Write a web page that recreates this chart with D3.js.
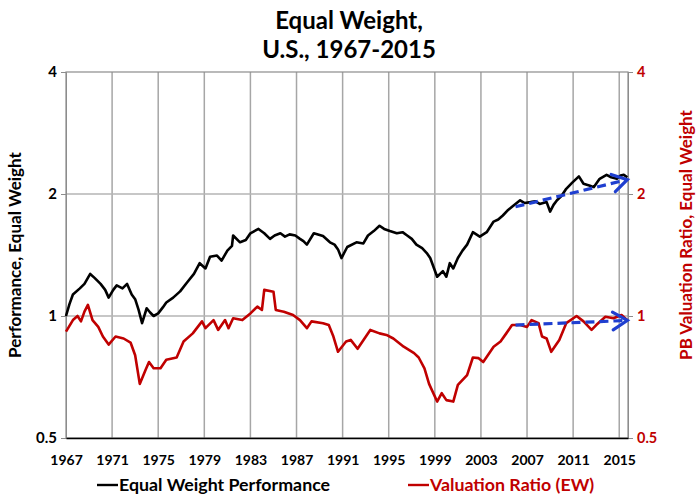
<!DOCTYPE html>
<html>
<head>
<meta charset="utf-8">
<script src="https://cdn.jsdelivr.net/npm/d3@7"></script>
<style>
body { margin: 0; background: #fff; }
text { font-family: Lato, "Open Sans", sans-serif; font-weight: bold; }
</style>
</head>
<body>
<div class="chart"></div>
<script>
var width = 698;
var height = 500;

var perfColor = "#000000";
var ratioColor = "#c00000";
var arrowColor = "#1f3fd0";

// data (decimal years)
var perfYears = [1967.0, 1967.3, 1967.6, 1968.2, 1968.6, 1969.1, 1969.5, 1970.0, 1970.4, 1970.7, 1971.1, 1971.4, 1971.9, 1972.3, 1972.7, 1973.0, 1973.3, 1973.6, 1974.0, 1974.3, 1974.6, 1975.0, 1975.4, 1975.7, 1976.3, 1976.9, 1977.5, 1978.1, 1978.6, 1979.1, 1979.5, 1980.1, 1980.5, 1981.0, 1981.4, 1981.5, 1982.1, 1982.6, 1983.0, 1983.7, 1984.2, 1984.7, 1985.1, 1985.6, 1986.0, 1986.4, 1986.9, 1987.3, 1987.6, 1987.9, 1988.5, 1989.3, 1989.9, 1990.3, 1990.6, 1990.9, 1991.4, 1992.2, 1992.8, 1993.2, 1993.7, 1994.2, 1994.6, 1995.1, 1995.7, 1996.2, 1996.6, 1997.0, 1997.4, 1997.9, 1998.3, 1998.6, 1999.2, 1999.7, 2000.0, 2000.3, 2000.6, 2001.0, 2001.4, 2001.8, 2002.3, 2002.9, 2003.5, 2004.1, 2004.5, 2004.9, 2005.3, 2005.7, 2006.4, 2006.8, 2007.3, 2007.7, 2008.1, 2008.7, 2009.0, 2009.3, 2009.6, 2010.0, 2010.4, 2010.9, 2011.5, 2011.9, 2012.4, 2012.8, 2013.3, 2013.9, 2014.3, 2014.8, 2015.1, 2015.4, 2015.7];
var perfValues = [1.00, 1.07, 1.13, 1.17, 1.20, 1.27, 1.24, 1.20, 1.16, 1.11, 1.16, 1.19, 1.17, 1.20, 1.13, 1.10, 1.035, 0.96, 1.045, 1.02, 1.00, 1.015, 1.05, 1.08, 1.11, 1.15, 1.21, 1.27, 1.35, 1.31, 1.40, 1.41, 1.37, 1.45, 1.49, 1.58, 1.52, 1.54, 1.60, 1.64, 1.60, 1.55, 1.58, 1.60, 1.57, 1.59, 1.58, 1.55, 1.53, 1.50, 1.60, 1.575, 1.52, 1.50, 1.46, 1.39, 1.48, 1.52, 1.51, 1.58, 1.62, 1.67, 1.64, 1.62, 1.60, 1.61, 1.58, 1.55, 1.50, 1.47, 1.43, 1.39, 1.25, 1.29, 1.25, 1.35, 1.31, 1.39, 1.45, 1.50, 1.61, 1.57, 1.61, 1.71, 1.73, 1.77, 1.82, 1.86, 1.93, 1.90, 1.91, 1.92, 1.89, 1.91, 1.81, 1.88, 1.93, 1.98, 2.06, 2.13, 2.21, 2.12, 2.10, 2.08, 2.18, 2.23, 2.20, 2.18, 2.22, 2.23, 2.20];

var ratioYears = [1967.0, 1967.6, 1968.0, 1968.3, 1968.6, 1968.9, 1969.3, 1969.8, 1970.2, 1970.7, 1971.3, 1972.0, 1972.6, 1973.0, 1973.4, 1973.9, 1974.2, 1974.6, 1975.2, 1975.7, 1976.6, 1977.2, 1978.0, 1978.8, 1979.1, 1979.8, 1980.2, 1980.8, 1981.1, 1981.5, 1982.3, 1983.0, 1983.6, 1984.0, 1984.2, 1985.0, 1985.2, 1985.9, 1986.7, 1987.3, 1987.9, 1988.3, 1989.3, 1989.8, 1990.2, 1990.6, 1991.3, 1991.7, 1992.3, 1993.4, 1994.2, 1994.8, 1995.4, 1996.3, 1997.2, 1997.6, 1998.1, 1998.5, 1999.2, 1999.6, 2000.0, 2000.6, 2001.0, 2001.8, 2002.3, 2002.8, 2003.2, 2004.1, 2004.7, 2005.2, 2005.7, 2006.4, 2007.0, 2007.4, 2008.0, 2008.3, 2008.7, 2009.1, 2009.8, 2010.4, 2011.3, 2011.9, 2012.6, 2013.0, 2013.8, 2014.5, 2015.2, 2015.7];
var ratioValues = [0.915, 0.977, 1.00, 0.97, 1.025, 1.065, 0.977, 0.94, 0.89, 0.85, 0.89, 0.88, 0.86, 0.80, 0.68, 0.736, 0.77, 0.743, 0.743, 0.78, 0.79, 0.865, 0.906, 0.97, 0.933, 0.977, 0.924, 0.977, 0.933, 0.987, 0.977, 1.015, 1.055, 1.035, 1.16, 1.148, 1.035, 1.025, 1.006, 0.977, 0.933, 0.97, 0.96, 0.95, 0.89, 0.816, 0.865, 0.873, 0.83, 0.924, 0.906, 0.898, 0.88, 0.84, 0.81, 0.79, 0.743, 0.68, 0.615, 0.645, 0.62, 0.615, 0.676, 0.715, 0.79, 0.787, 0.77, 0.84, 0.865, 0.906, 0.95, 0.95, 0.94, 0.977, 0.96, 0.89, 0.88, 0.816, 0.873, 0.96, 1.00, 0.97, 0.924, 0.95, 0.996, 0.987, 1.006, 0.977];

// dashed trend arrows [startYear, startValue, endYear, endValue]
var perfTrend = [2006.0, 1.86, 2015.7, 2.17];
var ratioTrend = [2006.0, 0.95, 2015.7, 0.975];

var yearTicks = [1967, 1971, 1975, 1979, 1983, 1987, 1991, 1995, 1999, 2003, 2007, 2011, 2015];
var valueTicks = [0.5, 1, 2, 4];

var titleLines = ["Equal Weight,", "U.S., 1967-2015"];

// layout
var plot = { left: 66, right: 628, top: 72, bottom: 438 };

var svg = d3.select('.chart').append('svg')
	.attr('width', width)
	.attr('height', height);

var x = d3.scaleLinear().domain([1967, 2015.76]).range([plot.left, plot.right]);
var y = d3.scaleLog().domain([0.5, 4]).range([plot.bottom, plot.top]);

// gridlines
svg.append('g').selectAll('line.vgrid')
	.data(yearTicks.slice(1))
	.enter().append('line')
	.attr('x1', d => x(d)).attr('x2', d => x(d))
	.attr('y1', plot.top).attr('y2', plot.bottom)
	.attr('stroke', '#a6a6a6').attr('stroke-width', 1.5);

svg.append('g').selectAll('line.hgrid')
	.data([1, 2])
	.enter().append('line')
	.attr('x1', plot.left).attr('x2', plot.right)
	.attr('y1', d => y(d)).attr('y2', d => y(d))
	.attr('stroke', '#b4b4b4').attr('stroke-width', 1.5);

// plot frame
svg.append('rect')
	.attr('x', plot.left).attr('y', plot.top)
	.attr('width', plot.right - plot.left).attr('height', plot.bottom - plot.top)
	.attr('fill', 'none').attr('stroke', '#8c8c8c').attr('stroke-width', 1.2);

// left axis
var leftAxis = svg.append('g')
	.attr('transform', 'translate(' + plot.left + ',0)')
	.call(d3.axisLeft(y).tickValues(valueTicks).tickFormat(d => d).tickSize(5).tickPadding(4));
leftAxis.select('.domain').attr('stroke', '#8c8c8c');
leftAxis.selectAll('.tick line').attr('stroke', '#8c8c8c');
leftAxis.selectAll('text').attr('font-size', 15).attr('fill', '#000');

// right axis
var rightAxis = svg.append('g')
	.attr('transform', 'translate(' + plot.right + ',0)')
	.call(d3.axisRight(y).tickValues(valueTicks).tickFormat(d => d).tickSize(5).tickPadding(4));
rightAxis.select('.domain').attr('stroke', '#8c8c8c');
rightAxis.selectAll('.tick line').attr('stroke', '#8c8c8c');
rightAxis.selectAll('text').attr('font-size', 14.5).attr('fill', ratioColor);

// bottom axis
var bottomAxis = svg.append('g')
	.attr('transform', 'translate(0,' + plot.bottom + ')')
	.call(d3.axisBottom(x).tickValues(yearTicks).tickFormat(d3.format('d')).tickSize(0).tickPadding(17));
bottomAxis.select('.domain').attr('stroke', '#000').attr('stroke-width', 1.5);
bottomAxis.selectAll('text').attr('font-size', 14).attr('fill', '#000');

// lines
var line = d3.line()
	.x(d => x(d[0]))
	.y(d => y(d[1]));

svg.append('path')
	.datum(d3.zip(ratioYears, ratioValues))
	.attr('d', line)
	.attr('fill', 'none')
	.attr('stroke', ratioColor)
	.attr('stroke-width', 2.6)
	.attr('stroke-linejoin', 'round');

svg.append('path')
	.datum(d3.zip(perfYears, perfValues))
	.attr('d', line)
	.attr('fill', 'none')
	.attr('stroke', perfColor)
	.attr('stroke-width', 2.6)
	.attr('stroke-linejoin', 'round');

// trend arrows
function drawArrow(t) {
	var x1 = x(t[0]), y1 = y(t[1]), x2 = x(t[2]), y2 = y(t[3]);
	var ang = Math.atan2(y2 - y1, x2 - x1);
	var len = 17, spread = 0.55;
	svg.append('line')
		.attr('x1', x1).attr('y1', y1).attr('x2', x2 - 3 * Math.cos(ang)).attr('y2', y2 - 3 * Math.sin(ang))
		.attr('stroke', arrowColor).attr('stroke-width', 3.2)
		.attr('stroke-dasharray', '9,5');
	var pts = [
		[x2 - len * Math.cos(ang - spread), y2 - len * Math.sin(ang - spread)],
		[x2, y2],
		[x2 - len * Math.cos(ang + spread), y2 - len * Math.sin(ang + spread)]
	];
	svg.append('path')
		.attr('d', d3.line()(pts))
		.attr('fill', 'none')
		.attr('stroke', arrowColor).attr('stroke-width', 3.2)
		.attr('stroke-linecap', 'round').attr('stroke-linejoin', 'miter');
}
drawArrow(perfTrend);
drawArrow(ratioTrend);

// title
svg.append('g').selectAll('text')
	.data(titleLines)
	.enter().append('text')
	.attr('x', 349)
	.attr('y', (d, i) => 29 + i * 29)
	.attr('text-anchor', 'middle')
	.attr('font-size', 24)
	.text(d => d);

// axis titles
svg.append('text')
	.attr('transform', 'translate(21,' + 255 + ') rotate(-90)')
	.attr('text-anchor', 'middle')
	.attr('font-size', 17)
	.text('Performance, Equal Weight');

svg.append('text')
	.attr('transform', 'translate(692,' + 235 + ') rotate(-90)')
	.attr('text-anchor', 'middle')
	.attr('font-size', 17)
	.attr('fill', ratioColor)
	.text('PB Valuation Ratio, Equal Weight');

// legend
var legendItems = [
	{ label: 'Equal Weight Performance', color: perfColor, x: 97 },
	{ label: 'Valuation Ratio (EW)', color: ratioColor, x: 408 }
];
var legend = svg.append('g').selectAll('g')
	.data(legendItems)
	.enter().append('g')
	.attr('transform', d => 'translate(' + d.x + ',485)');
legend.append('line')
	.attr('x1', 0).attr('x2', 21).attr('y1', 0).attr('y2', 0)
	.attr('stroke', d => d.color).attr('stroke-width', 2.4);
legend.append('text')
	.attr('x', 22).attr('y', 6)
	.attr('font-size', 17.8)
	.attr('fill', d => d.color)
	.text(d => d.label);
</script>
</body>
</html>
